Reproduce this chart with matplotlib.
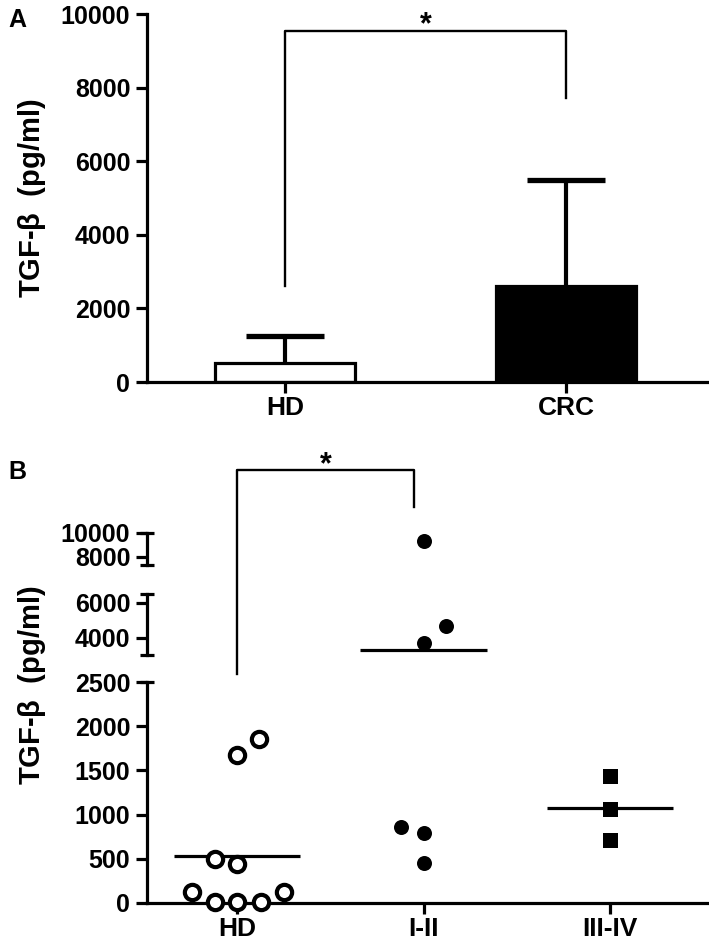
import numpy as np
import matplotlib
matplotlib.use('Agg')
import matplotlib.pyplot as plt
from matplotlib import transforms

# panel A: bar chart, mean + SD
groups_a = ['HD', 'CRC']
mean_a = [520, 2610]
sd_a = [730, 2890]
bar_colors = ['white', 'black']
sig_a_top = 9540
sig_a_legs = [2610, 7720]

# panel B: individual values per stage
stages = ['HD', 'I-II', 'III-IV']
hd_vals = [1670, 1860, 500, 443, 127, 10, 10, 10, 127]
early_vals = [9330, 4650, 3700, 860, 792, 457]
late_vals = [1441, 1058, 717]
# horizontal scatter of the dots
hd_jit = [0, 0.12, -0.12, 0, -0.24, -0.12, 0, 0.13, 0.25]
early_jit = [0, 0.12, 0, -0.12, 0, 0]
late_jit = [0, 0, 0]

segments = [(0, 2500), (3000, 6500), (7300, 10000)]
seg_ticks = [[0, 500, 1000, 1500, 2000, 2500], [4000, 6000], [8000, 10000]]

plt.rcParams['font.family'] = ['Liberation Sans', 'DejaVu Sans']
plt.rcParams['font.weight'] = 'bold'
plt.rcParams['mathtext.fontset'] = 'custom'
plt.rcParams['mathtext.it'] = 'Liberation Sans'
plt.rcParams['mathtext.rm'] = 'Liberation Sans'

W, H = 709, 949
LW = 2.3
TICK_FS = 18
CAT_FS = 19


def fig_box(left, top, right, bottom):
    return [left / W, 1 - bottom / H, (right - left) / W, (bottom - top) / H]


def style_axis(ax):
    for s in ['top', 'right']:
        ax.spines[s].set_visible(False)
    for s in ['left', 'bottom']:
        ax.spines[s].set_linewidth(LW)
    ax.tick_params(width=LW, length=8, labelsize=TICK_FS, pad=4)
    ax.tick_params(axis='x', length=8, labelsize=CAT_FS, pad=2)


fig = plt.figure(figsize=(W / 100, H / 100), dpi=100)

# ---- panel A ----
axA = fig.add_axes(fig_box(147, 14, 707, 382))
xa = np.arange(len(groups_a))
mean_a = np.array(mean_a)
sd_a = np.array(sd_a)
axA.vlines(xa, mean_a, mean_a + sd_a, color='black', lw=3, zorder=1)
axA.hlines(mean_a + sd_a, xa - 0.14, xa + 0.14, color='black', lw=3.8, zorder=1)
axA.bar(xa, mean_a, width=0.5, color=bar_colors, edgecolor='black', linewidth=LW, zorder=2)
axA.plot([xa[0], xa[0], xa[1], xa[1]], [sig_a_legs[0], sig_a_top, sig_a_top, sig_a_legs[1]],
         color='black', lw=1.7, clip_on=False)
axA.text(xa.mean(), 9700, '*', ha='center', va='center', fontsize=22, fontweight='bold')
axA.set_xlim(-0.491, 1.502)
axA.set_ylim(0, 10000)
axA.set_yticks([0, 2000, 4000, 6000, 8000, 10000])
axA.set_xticks(xa)
axA.set_xticklabels(groups_a)
style_axis(axA)

# ---- panel B (broken y axis) ----
seg_px = [(903, 682), (655, 594), (565, 533)]
cap = 7 / 560
groups_b = [(hd_vals, hd_jit, 'o', 'white'),
            (early_vals, early_jit, 'o', 'black'),
            (late_vals, late_jit, 's', 'black')]
axes_b = []
for i, ((lo, hi), (pb, pt)) in enumerate(zip(segments, seg_px)):
    ax = fig.add_axes(fig_box(147, pt, 707, pb))
    ax.set_facecolor('none')
    ax.set_xlim(-0.483, 2.52)
    ax.set_ylim(lo, hi)
    ax.set_yticks(seg_ticks[i])
    style_axis(ax)
    for k, (vals, jit, mk, fc) in enumerate(groups_b):
        vals = np.array(vals)
        xs = k + np.array(jit)
        inside = (vals >= lo) & (vals <= hi)
        if mk == 'o' and fc == 'white':
            ax.plot(xs[inside], vals[inside], 'o', ms=11, mfc='white', mec='black', mew=3,
                    clip_on=False, zorder=3)
        else:
            ax.plot(xs[inside], vals[inside], mk, ms=10.8, mfc='black', mec='black', mew=0,
                    clip_on=False, zorder=3)
        m = vals.mean()
        if lo <= m <= hi:
            ax.hlines(m, k - 0.34, k + 0.34, color='black', lw=LW, zorder=2)
    # end caps of each axis piece
    ends = [1] if i == 0 else [0, 1]
    for e in ends:
        ax.plot([-cap, cap], [e, e], transform=ax.transAxes, color='black', lw=LW,
                clip_on=False, solid_capstyle='butt')
    if i == 0:
        ax.set_xticks(range(len(stages)))
        ax.set_xticklabels(stages)
    else:
        ax.spines['bottom'].set_visible(False)
        ax.set_xticks([])
    axes_b.append(ax)

# significance bracket HD vs I-II (y in figure fraction, x in data)
axB = axes_b[0]
tr = transforms.blended_transform_factory(axB.transData, fig.transFigure)
axB.plot([0, 0, 0.95, 0.95], [1 - 674 / H, 1 - 470 / H, 1 - 470 / H, 1 - 507 / H],
         transform=tr, color='black', lw=1.7, clip_on=False)
axB.text(0.475, 1 - 465 / H, '*', transform=tr, ha='center', va='center',
         fontsize=22, fontweight='bold')

ylab = r'TGF-$\beta$  (pg/ml)'
fig.text(32 / W, 1 - 198 / H, ylab, rotation=90, ha='center', va='center', fontsize=21, fontweight='bold')
fig.text(32 / W, 1 - 685 / H, ylab, rotation=90, ha='center', va='center', fontsize=21, fontweight='bold')
fig.text(17 / W, 1 - 20 / H, 'A', ha='center', va='center', fontsize=18, fontweight='bold')
fig.text(17 / W, 1 - 472 / H, 'B', ha='center', va='center', fontsize=18, fontweight='bold')

fig.savefig('out.png', dpi=100)
